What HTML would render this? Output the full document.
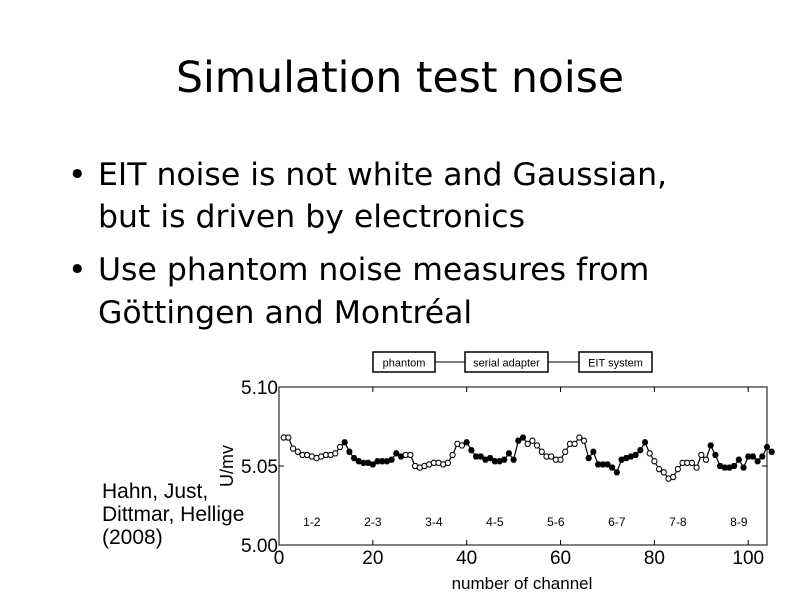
<!DOCTYPE html>
<html><head><meta charset="utf-8"><style>
body{margin:0;width:800px;height:600px;background:#fff;position:relative;overflow:hidden;font-family:"Liberation Sans",sans-serif;}
.t{position:absolute;white-space:nowrap;color:#000;}
.b{position:absolute;white-space:nowrap;font-family:'DejaVu Sans',sans-serif;font-size:31.5px;line-height:36px;}
</style></head><body>
<div class="t" style="left:0;width:800px;text-align:center;top:54px;font-size:42.5px;font-family:'DejaVu Sans',sans-serif;">Simulation test noise</div>
<div>
<div class="b" style="left:68px;top:157px;">•</div>
<div class="b" style="left:98px;top:157px;">EIT noise is not white and Gaussian,</div>
<div class="b" style="left:98px;top:199px;">but is driven by electronics</div>
</div>
<div>
<div class="b" style="left:68px;top:252px;">•</div>
<div class="b" style="left:98px;top:252px;">Use phantom noise measures from</div>
<div class="b" style="left:98px;top:295px;">Göttingen and Montréal</div>
</div>
<div class="t" style="left:102px;top:480px;font-size:21px;line-height:23px;">Hahn, Just,<br>Dittmar, Hellige<br>(2008)</div>
<svg id="chart" width="800" height="600" style="position:absolute;left:0;top:0"></svg>
<script>
const segLabels=["1-2","2-3","3-4","4-5","5-6","6-7","7-8","8-9"];
const xTicks=[0,20,40,60,80,100];
const yTicks=[5.00,5.05,5.10];
const values=[5.068,5.068,5.061,5.059,5.057,5.057,5.056,5.055,5.056,5.057,5.057,5.058,5.062,
5.065,5.059,5.055,5.053,5.052,5.052,5.051,5.053,5.053,5.053,5.054,5.058,5.056,
5.057,5.057,5.050,5.049,5.050,5.051,5.052,5.052,5.051,5.052,5.057,5.064,5.063,
5.065,5.060,5.056,5.056,5.054,5.055,5.053,5.053,5.054,5.058,5.054,5.066,5.068,
5.064,5.066,5.063,5.059,5.056,5.056,5.054,5.054,5.059,5.064,5.064,5.068,5.066,
5.055,5.059,5.051,5.051,5.051,5.049,5.046,5.054,5.055,5.056,5.057,5.060,5.065,
5.058,5.053,5.048,5.046,5.042,5.043,5.048,5.052,5.052,5.052,5.049,5.057,5.054,
5.063,5.057,5.050,5.049,5.049,5.050,5.054,5.049,5.056,5.056,5.053,5.056,5.062,5.059];
const filled=[0,1,0,1,0,1,0,1];
const NS="http://www.w3.org/2000/svg",svg=document.getElementById('chart');
const L=279,R=767,T=387,B=545;
const xs=v=>L+(v/104)*(R-L), ys=v=>B-(v-5.0)/0.1*(B-T);
function mk(tag,a,txt){const e=document.createElementNS(NS,tag);for(const k in a)e.setAttribute(k,a[k]);if(txt!=null)e.textContent=txt;svg.appendChild(e);return e;}
const boxes=[["phantom",373,62],["serial adapter",465,83],["EIT system",579,73]];
mk('line',{x1:435,y1:362,x2:579,y2:362,stroke:'#000','stroke-width':1});
boxes.forEach(b=>{const r=mk('rect',{x:b[1],y:352,width:b[2],height:20,fill:'#fff',stroke:'#000','stroke-width':1.5});

const t=mk('text',{x:b[1]+b[2]/2,y:366.5,'text-anchor':'middle','font-size':11,'font-family':'Liberation Sans, sans-serif'},b[0]);
});
const fr=mk('rect',{x:L,y:T,width:R-L,height:B-T,fill:'none',stroke:'#000','stroke-width':1});

xTicks.forEach(v=>{const x=xs(v);mk('line',{x1:x,y1:B,x2:x,y2:B-5,stroke:'#000'});mk('line',{x1:x,y1:T,x2:x,y2:T+5,stroke:'#000'});
const t=mk('text',{x:x,y:B+19,'text-anchor':'middle','font-size':19,'font-family':'Liberation Sans, sans-serif'},String(v));
});
yTicks.forEach(v=>{const y=ys(v);mk('line',{x1:L,y1:y,x2:L+5,y2:y,stroke:'#000'});mk('line',{x1:R,y1:y,x2:R-5,y2:y,stroke:'#000'});
const t=mk('text',{x:L-1,y:y+7,'text-anchor':'end','font-size':19,'font-family':'Liberation Sans, sans-serif'},v.toFixed(2));
});
const yl=mk('text',{x:0,y:0,transform:'translate(233,466) rotate(-90)','text-anchor':'middle','font-size':18,'font-family':'Liberation Sans, sans-serif'},'U/mv');

const xl=mk('text',{x:522,y:589,'text-anchor':'middle','font-size':17,'font-family':'Liberation Sans, sans-serif'},'number of channel');

segLabels.forEach((s,i)=>{const t=mk('text',{x:xs(7+i*13),y:526,'text-anchor':'middle','font-size':12,'font-family':'Liberation Sans, sans-serif'},s);
});
const pts=values.map((v,i)=>xs(i+1)+','+ys(v)).join(' ');
const pl=mk('polyline',{points:pts,fill:'none',stroke:'#000','stroke-width':1.2});

values.forEach((v,i)=>{const x=xs(i+1),y=ys(v),e=2.5;
mk('line',{x1:x,y1:y-e,x2:x,y2:y+e,stroke:'#444'});
mk('line',{x1:x-2,y1:y-e,x2:x+2,y2:y-e,stroke:'#444'});mk('line',{x1:x-2,y1:y+e,x2:x+2,y2:y+e,stroke:'#444'});
const f=filled[Math.min(7,Math.floor(i/13))];
const c=mk('circle',{cx:x,cy:y,r:2.6,fill:f?'#000':'#fff',stroke:'#000','stroke-width':1});
});
</script>
</body></html>
